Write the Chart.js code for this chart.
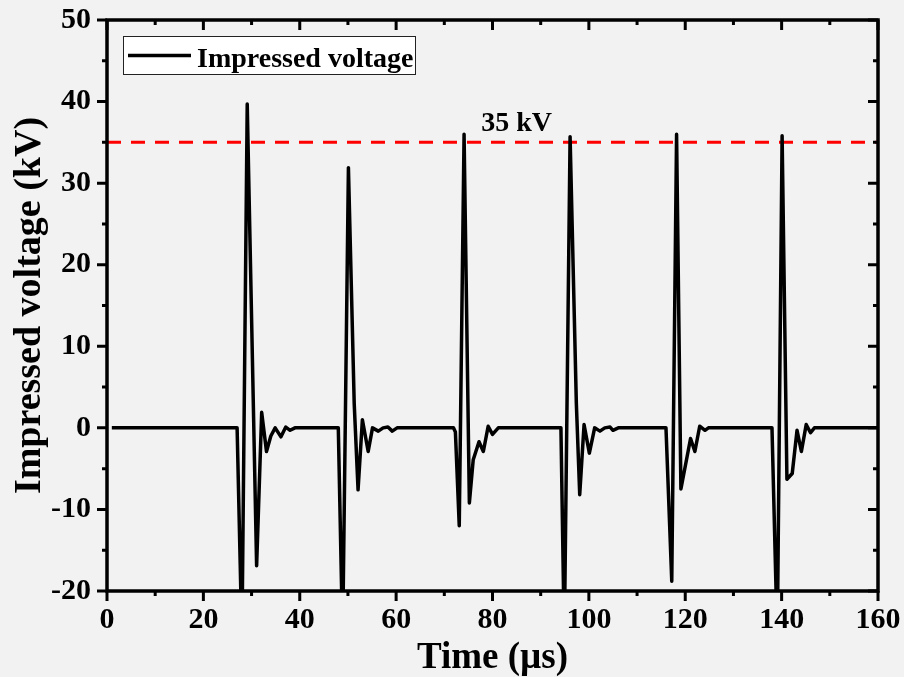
<!DOCTYPE html>
<html>
<head>
<meta charset="utf-8">
<script src="https://cdn.jsdelivr.net/npm/chart.js@4.4.0/dist/chart.umd.min.js"></script>
<style>
html,body{margin:0;padding:0;background:#f2f2f2;}
canvas{display:block;}
</style>
</head>
<body>
<canvas id="c" width="904" height="677"></canvas>
<script>
// ---- data ----
const timeUs = [
  1, 27.0, 28.0, 29.1, 31.05, 32.1, 33.1, 34.0, 34.9, 36.1, 37.1, 38.0, 39.0,
  48.0, 48.9, 50.1, 51.3, 52.1, 53.0, 54.2, 55.1, 56.3, 57.3, 58.3, 59.2, 60.2,
  71.9, 72.3, 73.1, 74.1, 75.2, 76.0, 77.2, 78.1, 79.1, 80.0, 81.2,
  94.2, 94.9, 96.1, 97.4, 98.1, 99.0, 100.1, 101.2, 102.3, 103.3, 104.4, 105.0, 106.1,
  116.0, 117.2, 118.2, 119.1, 121.1, 122.0, 123.0, 124.1, 124.8,
  138.0, 139.1, 140.1, 141.1, 142.2, 143.2, 144.1, 145.1, 146.0, 146.8,
  160
];
const voltageKV = [
  0, 0, -26, 39.7, -16.9, 1.9, -2.9, -1.0, 0.0, -1.1, 0.1, -0.3, 0,
  0, -26, 31.9, 3.0, -7.6, 1.0, -2.9, 0, -0.4, 0, 0.1, -0.4, 0,
  0, -0.5, -12.0, 36.0, -9.2, -3.9, -1.7, -2.9, 0.2, -0.8, 0,
  0, -26, 35.7, 3.0, -8.2, 0.4, -3.1, 0, -0.4, 0, 0.1, -0.3, 0,
  0, -18.8, 36.0, -7.5, -1.3, -2.9, 0.2, -0.3, 0,
  0, -26, 35.8, -6.3, -5.6, -0.3, -2.9, 0.4, -0.6, 0,
  0
];
const refTime = [0, 160];
const refVoltage = [35, 35];
const refLabel = '35 kV';
const xTickValues = [0, 20, 40, 60, 80, 100, 120, 140, 160];
const yTickValues = [-20, -10, 0, 10, 20, 30, 40, 50];
const seriesName = 'Impressed voltage';
const xTitle = 'Time (\u00b5s)';
const yTitle = 'Impressed voltage (kV)';

const FONT = "'Liberation Serif', 'Times New Roman', serif";

const mainPoints = timeUs.map((t, i) => ({x: t, y: voltageKV[i]}));
const refPoints = refTime.map((t, i) => ({x: t, y: refVoltage[i]}));

function minorsOf(ticks) {
  const out = [];
  for (let i = 0; i < ticks.length - 1; i++) out.push((ticks[i] + ticks[i + 1]) / 2);
  return out;
}
function noPad(s) {
  s.paddingTop = 0; s.paddingBottom = 0; s.paddingLeft = 0; s.paddingRight = 0;
}

const decorPlugin = {
  id: 'decor',
  beforeDraw(chart) {
    const ctx = chart.ctx;
    ctx.save();
    ctx.fillStyle = '#f2f2f2';
    ctx.fillRect(0, 0, chart.width, chart.height);
    ctx.restore();
  },
  afterDatasetsDraw(chart) {
    const {ctx, chartArea: a, scales: {x, y}} = chart;
    ctx.save();
    ctx.strokeStyle = '#000';
    ctx.lineCap = 'butt';
    // ticks
    ctx.lineWidth = 3;
    const majX = xTickValues, minX = minorsOf(xTickValues);
    const majY = yTickValues, minY = minorsOf(yTickValues);
    ctx.beginPath();
    majX.forEach(v => { const p = x.getPixelForValue(v);
      ctx.moveTo(p, a.bottom); ctx.lineTo(p, a.bottom + 10);
      ctx.moveTo(p, a.top); ctx.lineTo(p, a.top + 10); });
    minX.forEach(v => { const p = x.getPixelForValue(v);
      ctx.moveTo(p, a.bottom); ctx.lineTo(p, a.bottom + 5);
      ctx.moveTo(p, a.top); ctx.lineTo(p, a.top + 5); });
    majY.forEach(v => { const p = y.getPixelForValue(v);
      ctx.moveTo(a.left, p); ctx.lineTo(a.left - 10, p);
      ctx.moveTo(a.right, p); ctx.lineTo(a.right - 10, p); });
    minY.forEach(v => { const p = y.getPixelForValue(v);
      ctx.moveTo(a.left, p); ctx.lineTo(a.left - 5, p);
      ctx.moveTo(a.right, p); ctx.lineTo(a.right - 5, p); });
    ctx.stroke();
    // frame
    ctx.lineWidth = 3.5;
    ctx.strokeRect(a.left, a.top, a.right - a.left, a.bottom - a.top);

    // reference label
    ctx.fillStyle = '#000';
    ctx.font = "bold 28px " + FONT;
    ctx.textAlign = 'center';
    ctx.textBaseline = 'alphabetic';
    ctx.fillText(refLabel, x.getPixelForValue(85), y.getPixelForValue(36.4));

    // legend box
    const bx = a.left + 16, by = a.top + 16, bw = 293, bh = 39;
    ctx.fillStyle = '#ffffff';
    ctx.fillRect(bx, by, bw, bh);
    ctx.lineWidth = 1;
    ctx.strokeStyle = '#222';
    ctx.strokeRect(bx + 0.5, by + 0.5, bw - 1, bh - 1);
    ctx.strokeStyle = '#000';
    ctx.lineWidth = 3.5;
    ctx.beginPath();
    ctx.moveTo(bx + 5, by + 19.5);
    ctx.lineTo(bx + 68, by + 19.5);
    ctx.stroke();
    ctx.fillStyle = '#000';
    ctx.textAlign = 'left';
    ctx.fillText(chart.data.datasets[0].label, bx + 74, by + 30.5);
    ctx.restore();
  }
};

new Chart(document.getElementById('c'), {
  type: 'line',
  data: {
    datasets: [
      {
        label: seriesName,
        data: mainPoints,
        borderColor: '#000',
        borderWidth: 3.5,
        pointRadius: 0,
        tension: 0,
        fill: false,
        borderJoinStyle: 'round',
        clip: 0
      },
      {
        label: refLabel,
        data: refPoints,
        borderColor: '#ff0000',
        borderWidth: 3,
        borderDash: [14, 10],
        pointRadius: 0,
        fill: false,
        clip: 0
      }
    ]
  },
  options: {
    responsive: false,
    animation: false,
    devicePixelRatio: 1,
    layout: {padding: {top: 20, right: 26, left: 0, bottom: 0}},
    plugins: {legend: {display: false}, tooltip: {enabled: false}},
    scales: {
      x: {
        type: 'linear',
        min: 0, max: 160,
        afterFit: s => { s.height = 86; noPad(s); },
        afterBuildTicks: s => { s.ticks = xTickValues.map(v => ({value: v})); },
        grid: {display: false, drawTicks: false},
        border: {display: false},
        ticks: {
          color: '#000', padding: 11, autoSkip: false, maxRotation: 0,
          font: {family: FONT, size: 30, weight: 'bold'}
        },
        title: {
          display: true, text: xTitle, color: '#000',
          font: {family: FONT, size: 37, weight: 'bold', lineHeight: 1},
          padding: {top: 0, bottom: 0}
        }
      },
      y: {
        type: 'linear',
        min: -20, max: 50,
        afterFit: s => { s.width = 107; noPad(s); },
        afterBuildTicks: s => { s.ticks = yTickValues.map(v => ({value: v})); },
        grid: {display: false, drawTicks: false},
        border: {display: false},
        ticks: {
          color: '#000', padding: 16, autoSkip: false,
          font: {family: FONT, size: 30, weight: 'bold'}
        },
        title: {
          display: true, text: yTitle, color: '#000',
          font: {family: FONT, size: 38, weight: 'bold', lineHeight: 1},
          padding: {top: 11, bottom: 0}
        }
      }
    }
  },
  plugins: [decorPlugin]
});
</script>
</body>
</html>
